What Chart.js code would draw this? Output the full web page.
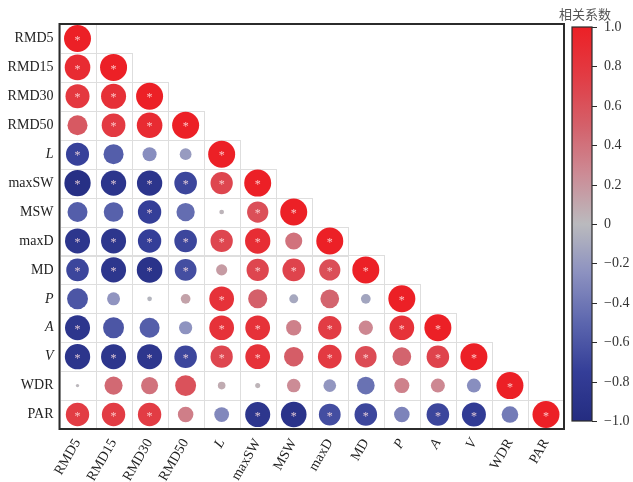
<!DOCTYPE html>
<html>
<head>
<meta charset="utf-8">
<script src="https://cdn.jsdelivr.net/npm/chart.js@4/dist/chart.umd.min.js"></script>
<style>
  html, body { margin: 0; padding: 0; background: #fff; }
  #wrap { width: 633px; height: 482px; position: relative; }
</style>
</head>
<body>
<div id="wrap"><canvas id="corr"></canvas></div>
<script>
// Variables, in the order used on both axes
const variables = ['RMD5', 'RMD15', 'RMD30', 'RMD50', 'L', 'maxSW', 'MSW', 'maxD', 'MD', 'P', 'A', 'V', 'WDR', 'PAR'];
const italicVars = ['L', 'P', 'A', 'V'];

// Lower-triangle correlation coefficients: one row per variable, columns up to the diagonal
const rowRMD5  = [1.00];
const rowRMD15 = [0.90, 1.00];
const rowRMD30 = [0.79, 0.86, 1.00];
const rowRMD50 = [0.55, 0.77, 0.90, 1.00];
const rowL     = [-0.73, -0.55, -0.27, -0.19, 1.00];
const rowMaxSW = [-0.95, -0.88, -0.88, -0.70, 0.68, 1.00];
const rowMSW   = [-0.55, -0.53, -0.75, -0.46, 0.03, 0.62, 1.00];
const rowMaxD  = [-0.86, -0.86, -0.75, -0.70, 0.68, 0.88, 0.40, 1.00];
const rowMD    = [-0.70, -0.86, -0.90, -0.65, 0.17, 0.68, 0.70, 0.62, 1.00];
const rowP     = [-0.60, -0.23, -0.03, 0.13, 0.84, 0.50, -0.11, 0.48, -0.13, 1.00];
const rowA     = [-0.86, -0.60, -0.55, -0.24, 0.84, 0.84, 0.32, 0.75, 0.28, 0.84, 1.00];
const rowV     = [-0.88, -0.86, -0.86, -0.70, 0.68, 0.84, 0.52, 0.77, 0.64, 0.48, 0.70, 1.00];
const rowWDR   = [0.015, 0.45, 0.40, 0.60, 0.08, 0.035, 0.25, -0.22, -0.43, 0.31, 0.27, -0.27, 1.00];
const rowPAR   = [0.75, 0.75, 0.75, 0.33, -0.30, -0.86, -0.90, -0.65, -0.70, -0.33, -0.70, -0.79, -0.38, 1.00];

// Significance flags (1 = marked with *)
const sigRMD5  = [1];
const sigRMD15 = [1, 1];
const sigRMD30 = [1, 1, 1];
const sigRMD50 = [0, 1, 1, 1];
const sigL     = [1, 0, 0, 0, 1];
const sigMaxSW = [1, 1, 1, 1, 1, 1];
const sigMSW   = [0, 0, 1, 0, 0, 1, 1];
const sigMaxD  = [1, 1, 1, 1, 1, 1, 0, 1];
const sigMD    = [1, 1, 1, 1, 0, 1, 1, 1, 1];
const sigP     = [0, 0, 0, 0, 1, 0, 0, 0, 0, 1];
const sigA     = [1, 0, 0, 0, 1, 1, 0, 1, 0, 1, 1];
const sigV     = [1, 1, 1, 1, 1, 1, 0, 1, 1, 0, 1, 1];
const sigWDR   = [0, 0, 0, 0, 0, 0, 0, 0, 0, 0, 0, 0, 1];
const sigPAR   = [1, 1, 1, 0, 0, 1, 1, 1, 1, 0, 1, 1, 0, 1];

// Colour bar
const cbarTicks  = [1.0, 0.8, 0.6, 0.4, 0.2, 0, -0.2, -0.4, -0.6, -0.8, -1.0];
const cbarLabels = ['1.0', '0.8', '0.6', '0.4', '0.2', '0', '\u22120.2', '\u22120.4', '\u22120.6', '\u22120.8', '\u22121.0'];
const cbarTitle  = '相关系数';

const corrRows = [rowRMD5, rowRMD15, rowRMD30, rowRMD50, rowL, rowMaxSW, rowMSW, rowMaxD, rowMD, rowP, rowA, rowV, rowWDR, rowPAR];
const sigRows  = [sigRMD5, sigRMD15, sigRMD30, sigRMD50, sigL, sigMaxSW, sigMSW, sigMaxD, sigMD, sigP, sigA, sigV, sigWDR, sigPAR];

// Diverging blue - grey - red colour map
const cmapStops = [
  [-1.00, [36, 44, 128]],
  [-0.75, [52, 62, 152]],
  [-0.50, [92, 102, 174]],
  [-0.25, [140, 145, 192]],
  [ 0.00, [186, 186, 190]],
  [ 0.25, [204, 140, 150]],
  [ 0.50, [212, 96, 106]],
  [ 0.75, [226, 60, 68]],
  [ 1.00, [236, 32, 38]]
];
function cmap(v) {
  v = Math.max(-1, Math.min(1, v));
  for (let k = 0; k < cmapStops.length - 1; k++) {
    const [a, ca] = cmapStops[k], [b, cb] = cmapStops[k + 1];
    if (v >= a && v <= b) {
      const t = (v - a) / (b - a);
      const c = ca.map((x, i) => Math.round(x + (cb[i] - x) * t));
      return `rgb(${c[0]},${c[1]},${c[2]})`;
    }
  }
  return 'rgb(186,186,190)';
}

const MAX_R = 13.5;   // radius of a |r| = 1 circle; circle area scales with |r|

const points = [];
corrRows.forEach((row, i) => {
  row.forEach((v, j) => {
    points.push({ x: j, y: i, r: MAX_R * Math.sqrt(Math.abs(v)), v: v, sig: sigRows[i][j] });
  });
});

const serif = 'Liberation Serif';
function tickFont(ctx) {
  const name = ctx && ctx.tick ? variables[ctx.tick.value] : '';
  return { family: serif, size: 14, style: italicVars.includes(name) ? 'italic' : 'normal' };
}

// Light cell borders for the lower triangle, drawn under the circles
const cellGrid = {
  id: 'cellGrid',
  beforeDatasetsDraw(chart) {
    const { ctx, scales: { x, y } } = chart;
    ctx.save();
    ctx.strokeStyle = '#dedede';
    ctx.lineWidth = 1;
    corrRows.forEach((row, i) => {
      row.forEach((_, j) => {
        const x0 = x.getPixelForValue(j - 0.5), x1 = x.getPixelForValue(j + 0.5);
        const y0 = y.getPixelForValue(i - 0.5), y1 = y.getPixelForValue(i + 0.5);
        ctx.strokeRect(Math.round(x0) + 0.5, Math.round(y0) + 0.5, Math.round(x1 - x0), Math.round(y1 - y0));
      });
    });
    ctx.restore();
  }
};

// Significance stars, frame and colour bar
const overlay = {
  id: 'overlay',
  afterDatasetsDraw(chart) {
    const { ctx, chartArea: ca } = chart;
    const meta = chart.getDatasetMeta(0);
    ctx.save();
    ctx.fillStyle = 'rgba(255,225,225,0.85)';
    ctx.font = `12px ${serif}`;
    ctx.textAlign = 'center';
    ctx.textBaseline = 'middle';
    meta.data.forEach((el, k) => {
      if (points[k].sig) ctx.fillText('*', el.x, el.y + 2);
    });

    // plot frame
    ctx.strokeStyle = '#2b2b2b';
    ctx.lineWidth = 2;
    ctx.strokeRect(ca.left, ca.top, ca.right - ca.left, ca.bottom - ca.top);

    // colour bar
    const bx = ca.right + 8, bw = 20, by0 = ca.top + 3, by1 = ca.bottom - 8;
    const valToY = v => by0 + (1 - v) / 2 * (by1 - by0);
    const grad = ctx.createLinearGradient(0, by0, 0, by1);
    for (let s = 0; s <= 40; s++) {
      grad.addColorStop(s / 40, cmap(1 - 2 * s / 40));
    }
    ctx.fillStyle = grad;
    ctx.fillRect(bx, by0, bw, by1 - by0);
    ctx.strokeStyle = '#2b2b2b';
    ctx.lineWidth = 1.2;
    ctx.strokeRect(bx, by0, bw, by1 - by0);

    ctx.fillStyle = '#333';
    ctx.font = `14px ${serif}`;
    ctx.textAlign = 'left';
    ctx.textBaseline = 'middle';
    ctx.lineWidth = 1;
    cbarTicks.forEach((v, k) => {
      const ty = Math.round(valToY(v)) + 0.5;
      ctx.beginPath();
      ctx.moveTo(bx + bw, ty);
      ctx.lineTo(bx + bw + 5, ty);
      ctx.stroke();
      ctx.fillText(cbarLabels[k], bx + bw + 12, ty);
    });

    ctx.fillStyle = '#555';
    ctx.font = `13px "Noto Sans CJK SC"`;
    ctx.textAlign = 'center';
    ctx.textBaseline = 'middle';
    ctx.fillText(cbarTitle, bx + bw / 2 + 3, 14);
    ctx.restore();
  }
};

new Chart(document.getElementById('corr'), {
  type: 'bubble',
  data: {
    datasets: [{
      data: points,
      backgroundColor: ctx => ctx.raw ? cmap(ctx.raw.v) : '#999',
      borderWidth: 0,
      hoverBorderWidth: 0
    }]
  },
  options: {
    responsive: true,
    maintainAspectRatio: false,
    animation: false,
    events: [],
    layout: { padding: { top: 24, right: 69, left: 0, bottom: 0 } },
    plugins: { legend: { display: false }, tooltip: { enabled: false } },
    scales: {
      x: {
        type: 'linear',
        min: -0.5,
        max: variables.length - 0.5,
        grid: { display: false, drawTicks: false },
        border: { display: false },
        afterBuildTicks: s => { s.ticks = variables.map((_, i) => ({ value: i })); },
        afterFit: s => { s.height = 53; },
        ticks: {
          autoSkip: false,
          minRotation: 60,
          maxRotation: 60,
          padding: 7,
          color: '#222',
          font: tickFont,
          callback: v => variables[v]
        }
      },
      y: {
        type: 'linear',
        reverse: true,
        min: -0.5,
        max: variables.length - 0.5,
        grid: { display: false, drawTicks: false },
        border: { display: false },
        afterBuildTicks: s => { s.ticks = variables.map((_, i) => ({ value: i })); },
        afterFit: s => { s.width = 59.5; },
        ticks: {
          autoSkip: false,
          padding: 6,
          color: '#222',
          font: tickFont,
          callback: v => variables[v]
        }
      }
    }
  },
  plugins: [cellGrid, overlay]
});
</script>
</body>
</html>
